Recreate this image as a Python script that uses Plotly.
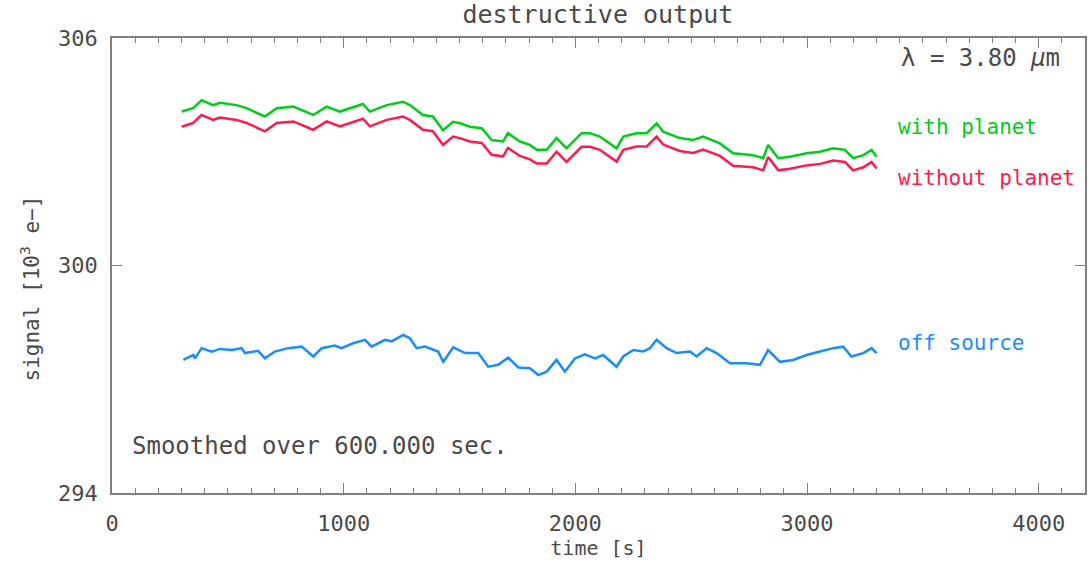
import plotly.graph_objects as go

# ---- data ----
t_planet = [301, 350, 387, 436, 466, 538, 581, 660, 711, 783,
            868, 927, 984, 1083, 1113, 1186, 1256, 1286, 1342, 1385,
            1429, 1472, 1502, 1545, 1596, 1639, 1688, 1709, 1761, 1804,
            1833, 1876, 1919, 1962, 2027, 2063, 2106, 2178, 2207, 2264,
            2308, 2351, 2379, 2451, 2509, 2552, 2624, 2681, 2768, 2811,
            2832, 2876, 2926, 2998, 3056, 3113, 3164, 3199, 3243, 3279, 3300]

with_planet = [304.06, 304.15, 304.36, 304.23, 304.29, 304.23, 304.15, 303.93, 304.15, 304.19,
               303.97, 304.19, 304.06, 304.26, 304.06, 304.23, 304.32, 304.23, 303.97, 303.93,
               303.57, 303.79, 303.75, 303.66, 303.62, 303.31, 303.27, 303.49, 303.27, 303.18,
               303.05, 303.05, 303.36, 303.09, 303.49, 303.49, 303.40, 303.09, 303.40, 303.49,
               303.49, 303.75, 303.53, 303.36, 303.31, 303.40, 303.22, 302.96, 302.91, 302.83,
               303.18, 302.83, 302.87, 302.96, 303.00, 303.09, 303.05, 302.83, 302.91, 303.05, 302.87]

without_planet = [303.66, 303.76, 303.97, 303.84, 303.90, 303.84, 303.76, 303.54, 303.76, 303.80,
                  303.58, 303.80, 303.67, 303.87, 303.67, 303.84, 303.93, 303.84, 303.58, 303.54,
                  303.18, 303.40, 303.36, 303.27, 303.23, 302.92, 302.88, 303.10, 302.89, 302.80,
                  302.69, 302.69, 303.00, 302.73, 303.13, 303.13, 303.05, 302.74, 303.05, 303.14,
                  303.14, 303.40, 303.19, 303.02, 302.97, 303.06, 302.89, 302.63, 302.59, 302.51,
                  302.86, 302.51, 302.55, 302.64, 302.68, 302.77, 302.73, 302.51, 302.59, 302.73, 302.56]

t_off = [308, 351, 358, 387, 430, 466, 517, 560, 574, 631,
         660, 703, 761, 819, 869, 905, 962, 991, 1041, 1092,
         1121, 1178, 1207, 1257, 1286, 1315, 1351, 1408, 1430, 1473,
         1524, 1581, 1624, 1667, 1710, 1754, 1804, 1840, 1876, 1919,
         1955, 1998, 2041, 2085, 2120, 2178, 2207, 2250, 2293, 2322,
         2351, 2394, 2437, 2495, 2523, 2567, 2610, 2667, 2739, 2797,
         2832, 2883, 2940, 2998, 3056, 3113, 3156, 3192, 3243, 3279, 3300]

off_source = [297.51, 297.64, 297.55, 297.82, 297.73, 297.80, 297.77, 297.82, 297.69, 297.75,
              297.55, 297.73, 297.82, 297.86, 297.60, 297.82, 297.89, 297.82, 297.95, 298.04,
              297.86, 298.04, 298.00, 298.17, 298.08, 297.82, 297.86, 297.73, 297.46, 297.84,
              297.69, 297.69, 297.33, 297.38, 297.57, 297.31, 297.29, 297.11, 297.20, 297.51,
              297.20, 297.55, 297.66, 297.55, 297.64, 297.33, 297.60, 297.77, 297.73, 297.82,
              298.04, 297.82, 297.69, 297.73, 297.60, 297.82, 297.69, 297.42, 297.42, 297.38,
              297.77, 297.46, 297.51, 297.64, 297.73, 297.82, 297.86, 297.60, 297.69, 297.82, 297.69]

x_ticks = [0, 1000, 2000, 3000, 4000]
y_ticks = [294, 300, 306]

GREEN = "#00cc1a"
RED = "#ff1a4d"
BLUE = "#1a8cff"
TXT = "#4a4a4a"
AX = "#808080"
FONT = "DejaVu Sans Mono"

fig = go.Figure()
fig.add_trace(go.Scatter(x=t_planet, y=with_planet, mode="lines",
                         line=dict(color=GREEN, width=2.5), showlegend=False))
fig.add_trace(go.Scatter(x=t_planet, y=without_planet, mode="lines",
                         line=dict(color=RED, width=2.5), showlegend=False))
fig.add_trace(go.Scatter(x=t_off, y=off_source, mode="lines",
                         line=dict(color=BLUE, width=2.5), showlegend=False))

ann_font = dict(family=FONT, size=21)
fig.add_annotation(x=4100, y=305.47, text="λ = 3.80 <i>μ</i>m", showarrow=False,
                   xanchor="right", yanchor="middle", font=dict(family=FONT, size=24, color=TXT))
fig.add_annotation(x=3385, y=303.65, text="with planet", showarrow=False,
                   xanchor="left", yanchor="middle", font=dict(ann_font, color=GREEN))
fig.add_annotation(x=3385, y=302.31, text="without planet", showarrow=False,
                   xanchor="left", yanchor="middle", font=dict(ann_font, color=RED))
fig.add_annotation(x=3385, y=297.96, text="off source", showarrow=False,
                   xanchor="left", yanchor="middle", font=dict(ann_font, color=BLUE))
fig.add_annotation(x=78, y=295.24, text="Smoothed over 600.000 sec.", showarrow=False,
                   xanchor="left", yanchor="middle", font=dict(family=FONT, size=24, color=TXT))
# y-axis title placed as a rotated paper annotation
fig.add_annotation(xref="paper", yref="paper", x=-0.084, y=0.45, text="signal [10<sup>3</sup> e−]",
                   textangle=-90, showarrow=False, xanchor="center", yanchor="middle",
                   font=dict(family=FONT, size=21, color=TXT))

fig.update_layout(
    width=1089, height=564,
    margin=dict(l=112, r=4, t=38, b=71, autoexpand=False),
    paper_bgcolor="white", plot_bgcolor="white",
    title=dict(text="destructive output", x=0.549, xanchor="center", y=0.975, yanchor="middle",
               font=dict(family=FONT, size=25, color=TXT)),
    font=dict(family=FONT, color=TXT),
)
fig.update_xaxes(
    range=[0, 4200], tickvals=x_ticks, ticktext=[str(v) for v in x_ticks],
    ticks="inside", ticklen=10, tickcolor=AX, tickwidth=1,
    minor=dict(dtick=100, tick0=0, ticks="inside", ticklen=5, tickcolor=AX, showgrid=False),
    showline=True, linecolor=AX, linewidth=1.5, mirror="ticks",
    showgrid=False, zeroline=False, automargin=False,
    tickfont=dict(family=FONT, size=22, color=TXT), ticklabelstandoff=10,
    title=dict(text="time [s]", font=dict(family=FONT, size=20, color=TXT), standoff=0),
)
fig.update_yaxes(
    range=[294, 306], tickvals=y_ticks, ticktext=[str(v) for v in y_ticks],
    ticks="inside", ticklen=10, tickcolor=AX, tickwidth=1,
    showline=True, linecolor=AX, linewidth=1.5, mirror="ticks",
    showgrid=False, zeroline=False, automargin=False,
    tickfont=dict(family=FONT, size=22, color=TXT), ticklabelstandoff=8,
)

fig.write_html("out.html", config={"displayModeBar": False},
               post_script="document.body.style.margin='0';")
